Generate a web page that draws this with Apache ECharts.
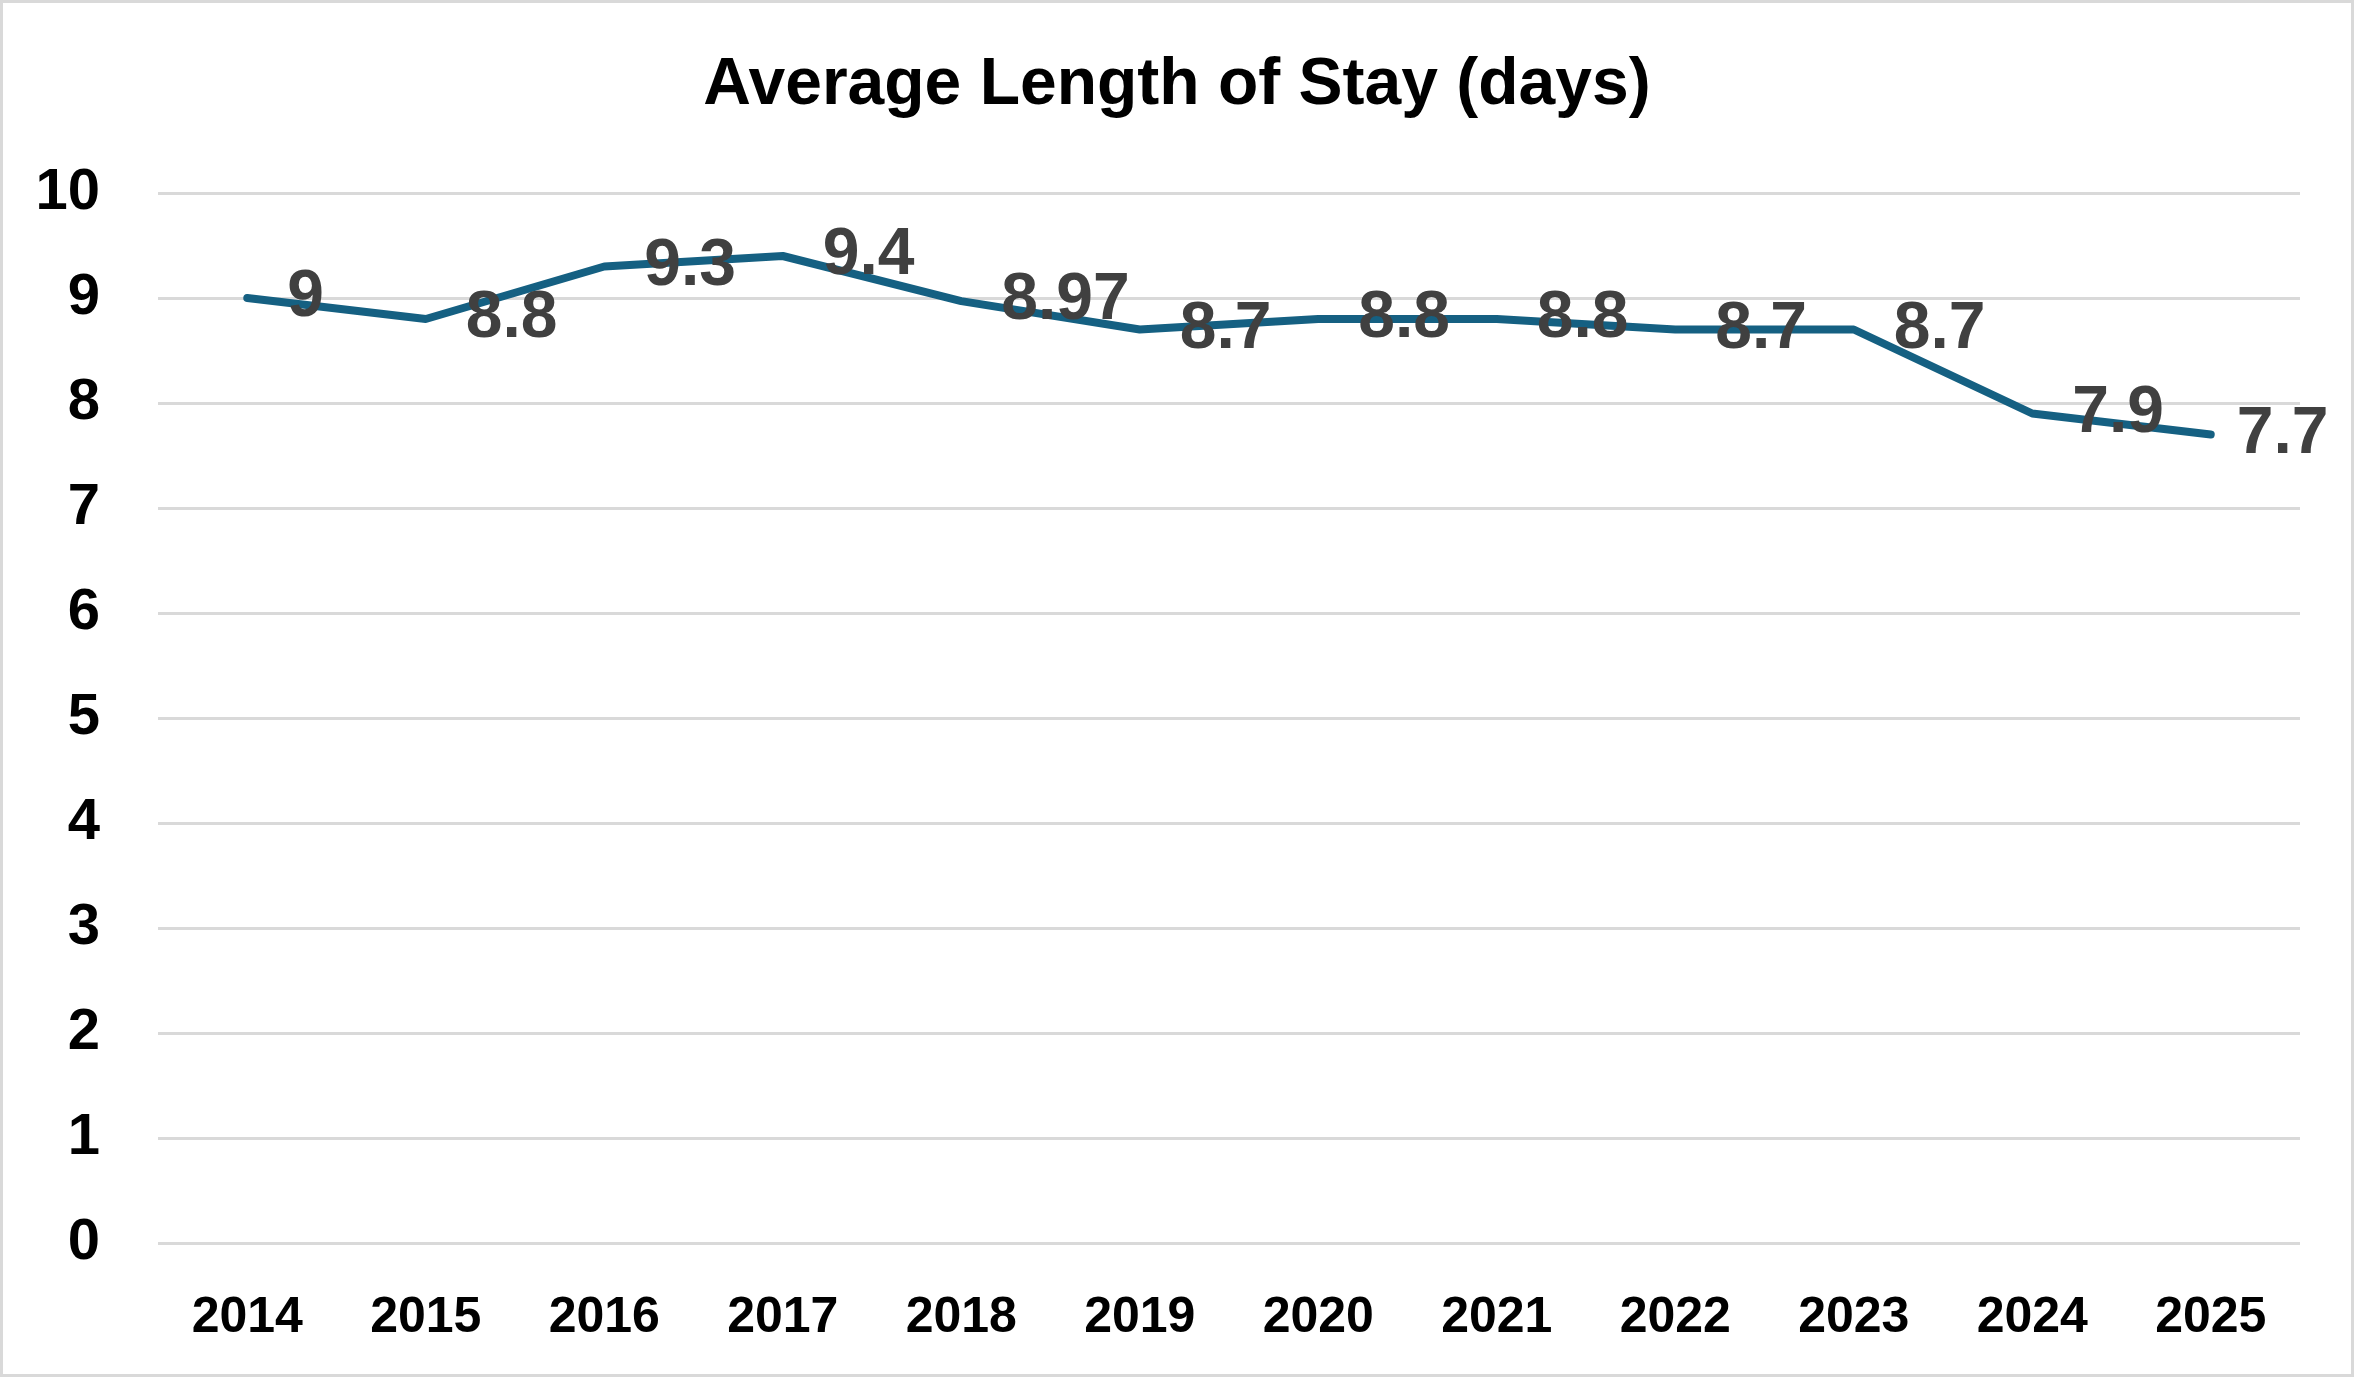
<!DOCTYPE html>
<html>
<head>
<meta charset="utf-8">
<script src="https://cdn.jsdelivr.net/npm/echarts@6/dist/echarts.min.js"></script>
<style>
  html, body { margin: 0; padding: 0; background: #fff; }
  #chart { width: 2354px; height: 1377px; box-sizing: border-box; border: 3px solid #d9d9d9; }
</style>
</head>
<body>
<div id="chart"></div>
<script>
// data
const years = ['2014', '2015', '2016', '2017', '2018', '2019', '2020', '2021', '2022', '2023', '2024', '2025'];
const avgStay = [9, 8.8, 9.3, 9.4, 8.97, 8.7, 8.8, 8.8, 8.7, 8.7, 7.9, 7.7];
const yTicks = [0, 1, 2, 3, 4, 5, 6, 7, 8, 9, 10];

const font = '"Liberation Sans", Arial, sans-serif';

// last label sits closer to its point (chart edge)
const lineData = avgStay.map((v, i) =>
  i === avgStay.length - 1 ? { value: v, label: { distance: 26 } } : v
);

const myChart = echarts.init(document.getElementById('chart'));
myChart.setOption({
  animation: false,
  title: {
    text: 'Average Length of Stay (days)',
    left: 'center',
    top: 45,
    textStyle: { fontFamily: font, fontSize: 66, fontWeight: 'bold', color: '#000' }
  },
  grid: { left: 155, right: 51, top: 190, bottom: 131, containLabel: false },
  xAxis: {
    type: 'category',
    data: years,
    boundaryGap: true,
    axisLine: { show: false },
    axisTick: { show: false },
    axisLabel: { fontFamily: font, fontSize: 50, fontWeight: 'bold', color: '#000', margin: 50 }
  },
  yAxis: {
    type: 'value',
    min: yTicks[0],
    max: yTicks[yTicks.length - 1],
    interval: 1,
    axisLabel: { fontFamily: font, fontSize: 58, fontWeight: 'bold', color: '#000', margin: 58 },
    splitLine: { lineStyle: { color: '#d9d9d9', width: 3 } }
  },
  series: [
    {
      type: 'line',
      data: lineData,
      symbol: 'circle',
      symbolSize: 0.01,
      showSymbol: true,
      itemStyle: { color: '#156082' },
      lineStyle: { color: '#156082', width: 8, cap: 'round', join: 'round' },
      label: {
        show: true,
        position: 'right',
        distance: 40,
        fontFamily: font,
        fontSize: 66,
        fontWeight: 'bold',
        color: '#404040'
      },
      labelLayout: { hideOverlap: false }
    }
  ]
});
</script>
</body>
</html>
